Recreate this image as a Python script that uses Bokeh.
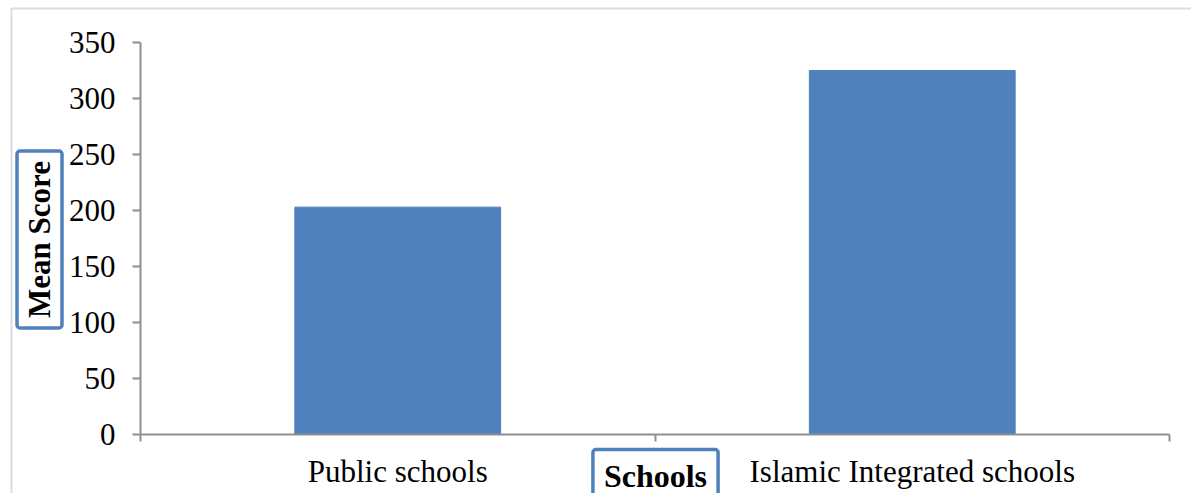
from bokeh.plotting import figure
from bokeh.models import FixedTicker, Range1d, Label, PolyAnnotation
from bokeh.embed import file_html
from bokeh.resources import INLINE

# Mean scores per school type
categories = ["Public schools", "Islamic Integrated schools"]
mean_scores = [203, 325]
y_ticks = [0, 50, 100, 150, 200, 250, 300, 350]
y_title = "Mean Score"
x_title = "Schools"

W, H = 1191, 493
# pixel box of the plotting area inside the canvas
AX_LEFT, AX_RIGHT, AX_TOP, AX_BOTTOM = 140, 1169, 42, 434

BAR = "#4F81BD"
AXIS = "#8f8f8f"
SERIF = "Liberation Serif"

n = len(categories)
y_max = y_ticks[-1]
px_x = (AX_RIGHT - AX_LEFT) / n
px_y = (AX_BOTTOM - AX_TOP) / y_max

# the frame fills the whole canvas; axes are pinned at the data origin
p = figure(width=W, height=H, output_backend="svg", toolbar_location=None,
           x_range=Range1d(-AX_LEFT / px_x, n + (W - AX_RIGHT) / px_x),
           y_range=Range1d(-(H - AX_BOTTOM) / px_y, y_max + AX_TOP / px_y),
           min_border=0)
p.min_border_left = p.min_border_right = p.min_border_top = p.min_border_bottom = 0

centers = [i + 0.5 for i in range(n)]
p.vbar(x=centers, top=mean_scores, width=0.4, fill_color=BAR, line_color=BAR)

# category axis: labels under bar centres, tick marks on category boundaries
xa = p.xaxis[0]
xa.fixed_location = 0
xa.bounds = (0, n)
xa.ticker = FixedTicker(ticks=centers, minor_ticks=list(range(n + 1)))
xa.major_label_overrides = {c: name for c, name in zip(centers, categories)}
xa.major_tick_out = 0
xa.major_tick_in = 0
xa.minor_tick_out = 7
xa.minor_tick_in = 0
xa.minor_tick_line_color = AXIS
xa.minor_tick_line_width = 2
xa.major_label_standoff = 12

ya = p.yaxis[0]
ya.fixed_location = 0
ya.bounds = (0, y_max)
ya.ticker = FixedTicker(ticks=y_ticks)
ya.major_tick_out = 8
ya.major_tick_in = 0
ya.minor_tick_line_color = None
ya.major_label_standoff = 17

for ax in (xa, ya):
    ax.axis_line_color = AXIS
    ax.axis_line_width = 2
    ax.major_tick_line_color = AXIS
    ax.major_tick_line_width = 2
    ax.major_label_text_font = SERIF
    ax.major_label_text_font_size = "31px"
    ax.major_label_text_color = "black"

p.xgrid.grid_line_color = None
p.ygrid.grid_line_color = None
p.outline_line_color = None

# outer frame of the chart area (left and top edges)
p.add_layout(PolyAnnotation(xs=[11, 11, W + 50, W + 50], ys=[-50, H - 8, H - 8, -50],
                            xs_units="screen", ys_units="screen",
                            fill_alpha=0, line_color="#8a8a8a", line_width=2))

# boxed axis titles
box_style = dict(x_units="screen", y_units="screen", text_align="center",
                 text_baseline="middle", text_font=SERIF, text_font_style="bold",
                 text_color="black", border_line_color=BAR, border_line_width=3.5,
                 background_fill_color="white", border_radius=3)

p.add_layout(Label(x=39, y=H - 239, text=y_title, angle=90, angle_units="deg",
                   text_font_size="31px", padding=(10, 5), **box_style))
p.add_layout(Label(x=655, y=H - 475, text=x_title, text_font_size="32px",
                   padding=(11, 8), **box_style))

open("out.html", "w").write(file_html(p, INLINE))
